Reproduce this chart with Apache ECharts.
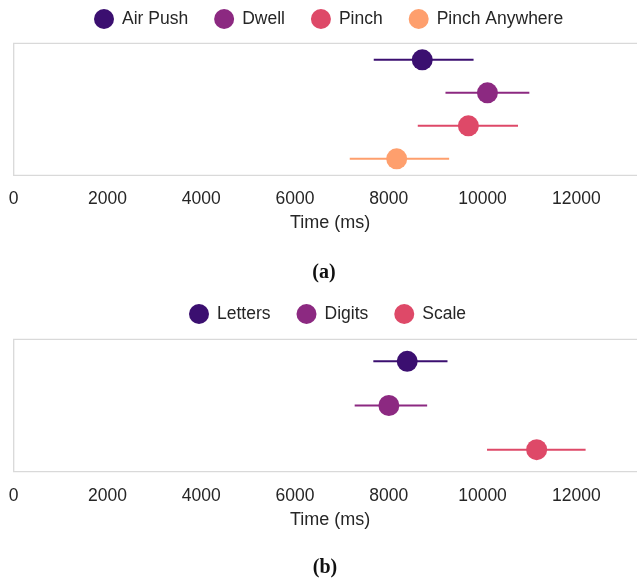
<!DOCTYPE html>
<html>
<head>
<meta charset="utf-8">
<script src="https://cdn.jsdelivr.net/npm/echarts@6/dist/echarts.min.js"></script>
<style>
html,body{margin:0;padding:0;background:#fff;overflow:hidden;}
#chart{width:637px;height:579px;}
</style>
</head>
<body>
<div id="chart"></div>
<script>
// Panel (a)
const panelACategories = ['Air Push', 'Dwell', 'Pinch', 'Pinch Anywhere'];
const panelAMeans = [8715, 10105, 9699, 8169];
const panelALow = [7680, 9210, 8619, 7168];
const panelAHigh = [9809, 10999, 10757, 9288];
// Panel (b)
const panelBCategories = ['Letters', 'Digits', 'Scale'];
const panelBMeans = [8394, 8003, 11155];
const panelBLow = [7671, 7273, 10096];
const panelBHigh = [9253, 8819, 12199];
// Axis ticks
const xTicks = [0, 2000, 4000, 6000, 8000, 10000, 12000];
const axisTitle = 'Time (ms)';
const palette = ['#3b0f70', '#8c2981', '#de4968', '#fe9f6d'];

const FONT = 'Liberation Sans, Arial, sans-serif';
const TXT = '#262626';

function buildSeries(cats, means, lows, highs, axisIndex) {
  const out = [];
  cats.forEach((c, i) => {
    out.push({
      name: c, type: 'line', xAxisIndex: axisIndex, yAxisIndex: axisIndex,
      data: [[lows[i], c], [highs[i], c]],
      symbol: 'none', lineStyle: {color: palette[i], width: 2},
      itemStyle: {color: palette[i]}, silent: true, z: 2, animation: false
    });
    out.push({
      name: c, type: 'scatter', xAxisIndex: axisIndex, yAxisIndex: axisIndex,
      data: [[means[i], c]], symbol: 'circle', symbolSize: 21,
      itemStyle: {color: palette[i], opacity: 1}, z: 3, animation: false
    });
  });
  return out;
}

function xAxisCfg(gridIndex) {
  return {
    type: 'value', gridIndex: gridIndex, min: 0, max: 13500, interval: 2000,
    name: axisTitle, nameLocation: 'middle', nameGap: 39,
    nameTextStyle: {fontFamily: FONT, fontSize: 18, color: TXT},
    axisLine: {show: false}, axisTick: {show: false}, splitLine: {show: false},
    axisLabel: {fontFamily: FONT, fontSize: 17.5, color: TXT, margin: 15, showMaxLabel: false,
      formatter: v => xTicks.indexOf(v) >= 0 ? String(v) : ''}
  };
}
function yAxisCfg(gridIndex, cats) {
  return {
    type: 'category', gridIndex: gridIndex, data: cats, inverse: true,
    axisLine: {show: false}, axisTick: {show: false}, axisLabel: {show: false}, splitLine: {show: false}
  };
}
function legendCfg(cats, left, top) {
  return {
    data: cats.map(c => ({name: c, icon: 'circle'})),
    left: left, top: top, padding: 0, itemWidth: 20, itemHeight: 20, itemGap: 26,
    textStyle: {fontFamily: FONT, fontSize: 17.5, color: TXT, padding: [0, 0, 0, 3]},
    selectedMode: false
  };
}

const chart = echarts.init(document.getElementById('chart'), null, {renderer: 'canvas'});
chart.setOption({
  backgroundColor: '#fff',
  animation: false,
  legend: [legendCfg(panelACategories, 94, 9), legendCfg(panelBCategories, 189, 304)],
  grid: [
    {left: 13.7, top: 43.3, height: 132, width: 632.9, show: true, borderColor: '#d9d9d9', borderWidth: 1.3, containLabel: false, outerBoundsMode: 'none'},
    {left: 13.7, top: 339.3, height: 132.4, width: 632.9, show: true, borderColor: '#d9d9d9', borderWidth: 1.3, containLabel: false, outerBoundsMode: 'none'}
  ],
  xAxis: [xAxisCfg(0), xAxisCfg(1)],
  yAxis: [yAxisCfg(0, panelACategories), yAxisCfg(1, panelBCategories)],
  series: buildSeries(panelACategories, panelAMeans, panelALow, panelAHigh, 0)
    .concat(buildSeries(panelBCategories, panelBMeans, panelBLow, panelBHigh, 1)),
  graphic: [
    {type: 'text', x: 324, y: 273, style: {text: '(a)', font: 'bold 20px "Liberation Serif", serif', fill: '#111', align: 'center', verticalAlign: 'middle'}},
    {type: 'text', x: 325, y: 568, style: {text: '(b)', font: 'bold 20px "Liberation Serif", serif', fill: '#111', align: 'center', verticalAlign: 'middle'}}
  ]
});
</script>
</body>
</html>
